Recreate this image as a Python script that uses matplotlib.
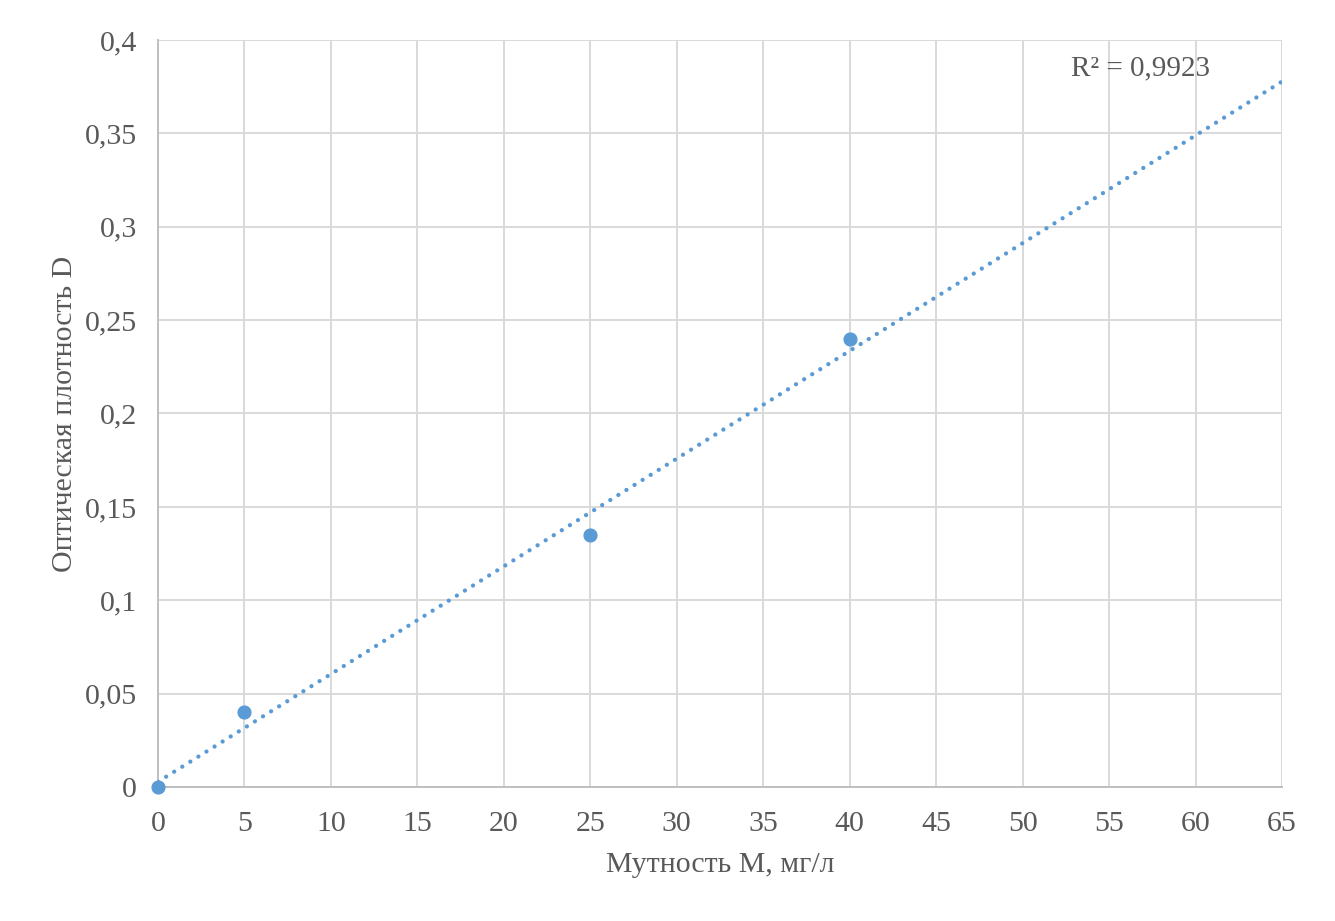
import numpy as np
import matplotlib.pyplot as plt

# turbidity (mg/l) vs optical density
turbidity = [0, 5, 25, 40]
density = [0.0, 0.04, 0.135, 0.24]
r2_label = 'R² = 0,9923'

x_ticks = list(range(0, 70, 5))
y_ticks = [0, 0.05, 0.1, 0.15, 0.2, 0.25, 0.3, 0.35, 0.4]

blue = '#5b9bd5'
text_gray = '#595959'

plt.rcParams['font.family'] = ['Liberation Serif', 'DejaVu Serif']

fig = plt.figure(figsize=(13.35, 9.21), dpi=100)
ax = fig.add_axes([158 / 1335, 1 - 787 / 921, (1282 - 158) / 1335, (787 - 40) / 921])

# linear trendline from the points
k, b = np.polyfit(turbidity, density, 1)
xs = np.array([0, 65])
ax.plot(xs, k * xs + b, color=blue, lw=3.1, linestyle=(0, (0.01, 2.2)),
        dash_capstyle='round', zorder=3)

ax.plot(turbidity, density, 'o', color=blue, markersize=9.2, zorder=4, clip_on=False)

ax.set_xlim(0, 65)
ax.set_ylim(0, 0.4)
ax.set_xticks(x_ticks)
ax.set_yticks(y_ticks)
ax.set_xticklabels([str(v) for v in x_ticks])
ax.set_yticklabels([('%g' % v).replace('.', ',') for v in y_ticks])
ax.tick_params(length=0, labelsize=21.5, labelcolor=text_gray)
ax.tick_params(axis='x', pad=17)
ax.tick_params(axis='y', pad=15)

ax.grid(True, color='#d9d9d9', lw=1.4)
ax.set_axisbelow(True)
for side in ['top', 'right']:
    ax.spines[side].set_visible(False)
for side in ['left', 'bottom']:
    ax.spines[side].set_color('#bfbfbf')
    ax.spines[side].set_linewidth(1.4)

ax.set_xlabel('Мутность М, мг/л', fontsize=21.5, color=text_gray, labelpad=11)
ax.set_ylabel('Оптическая плотность D', fontsize=21.5, color=text_gray, labelpad=5)

ax.text(56.8, 0.385, r2_label, fontsize=21, color=text_gray, ha='center', va='center')

fig.savefig('out.png', dpi=100)
